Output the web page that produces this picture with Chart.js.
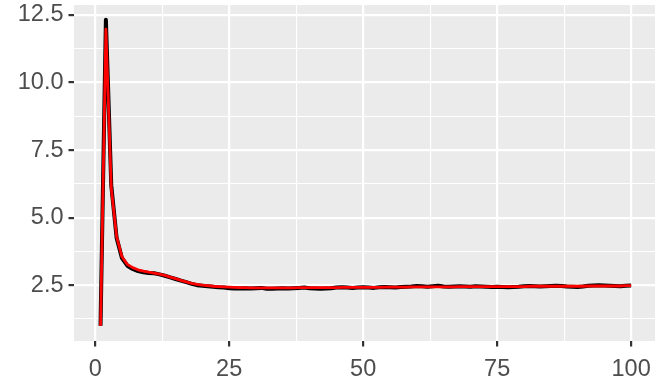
<!DOCTYPE html>
<html>
<head>
<meta charset="utf-8">
<script src="https://cdn.jsdelivr.net/npm/chart.js@4"></script>
<style>
  body { margin: 0; background: #ffffff; }
  #wrap { width: 655px; height: 379px; }
</style>
</head>
<body>
<div id="wrap"><canvas id="grafik" width="655" height="379"></canvas></div>
<script>
// nilai sumbu x: iterasi 1..100
const iterasi = [];
for (let i = 1; i <= 100; i++) iterasi.push(i);

// garis hitam (data mentah)
const nilaiHitam = [
  1.00, 12.32, 6.20, 4.25, 3.50, 3.22, 3.10, 3.02, 2.98, 2.95,
  2.94, 2.90, 2.85, 2.79, 2.73, 2.67, 2.61, 2.55, 2.50, 2.48,
  2.46, 2.44, 2.42, 2.41, 2.39, 2.38, 2.38, 2.39, 2.38, 2.39,
  2.40, 2.37, 2.37, 2.38, 2.39, 2.38, 2.39, 2.40, 2.41, 2.39,
  2.38, 2.37, 2.38, 2.39, 2.41, 2.42, 2.41, 2.40, 2.41, 2.42,
  2.41, 2.40, 2.42, 2.43, 2.42, 2.41, 2.43, 2.44, 2.45, 2.47,
  2.46, 2.44, 2.46, 2.48, 2.45, 2.44, 2.45, 2.46, 2.45, 2.44,
  2.46, 2.45, 2.44, 2.43, 2.44, 2.43, 2.42, 2.43, 2.44, 2.46,
  2.47, 2.46, 2.45, 2.46, 2.47, 2.48, 2.47, 2.45, 2.44, 2.43,
  2.45, 2.48, 2.49, 2.50, 2.49, 2.48, 2.47, 2.46, 2.48, 2.49
];

// garis merah (rata-rata)
const nilaiMerah = [
  1.00, 11.97, 6.10, 4.30, 3.55, 3.27, 3.15, 3.07, 3.02, 2.98,
  2.95, 2.91, 2.86, 2.80, 2.74, 2.68, 2.62, 2.57, 2.53, 2.50,
  2.48, 2.46, 2.45, 2.44, 2.43, 2.42, 2.41, 2.41, 2.40, 2.40,
  2.40, 2.40, 2.40, 2.40, 2.40, 2.40, 2.40, 2.41, 2.41, 2.41,
  2.41, 2.41, 2.41, 2.41, 2.41, 2.42, 2.42, 2.42, 2.42, 2.42,
  2.42, 2.42, 2.42, 2.43, 2.43, 2.43, 2.43, 2.43, 2.44, 2.44,
  2.44, 2.44, 2.44, 2.44, 2.44, 2.44, 2.44, 2.45, 2.45, 2.45,
  2.45, 2.45, 2.45, 2.45, 2.45, 2.45, 2.45, 2.45, 2.45, 2.45,
  2.46, 2.46, 2.46, 2.46, 2.46, 2.46, 2.46, 2.46, 2.46, 2.46,
  2.46, 2.47, 2.47, 2.47, 2.47, 2.47, 2.47, 2.47, 2.48, 2.48
];

const tickX = [0, 12.5, 25, 37.5, 50, 62.5, 75, 87.5, 100];
const tickY = [1.25, 2.5, 3.75, 5.0, 6.25, 7.5, 8.75, 10.0, 11.25, 12.5];

const latarPanel = {
  id: 'latarPanel',
  beforeDraw(chart) {
    const { ctx, chartArea: a } = chart;
    ctx.save();
    ctx.fillStyle = '#EBEBEB';
    ctx.fillRect(a.left, a.top, a.right - a.left, a.bottom - a.top);
    ctx.restore();
  }
};

function titikDari(nilai) {
  return iterasi.map((x, i) => ({ x: x, y: nilai[i] }));
}

const isMayorX = v => v % 25 === 0;
const isMayorY = v => Math.abs(v / 2.5 - Math.round(v / 2.5)) < 1e-6;

function gridOpsi(isMayor) {
  return {
    color: '#FFFFFF',
    lineWidth: c => isMayor(c.tick.value) ? 2.2 : 1.1,
    tickColor: c => isMayor(c.tick.value) ? '#333333' : 'rgba(0,0,0,0)',
    tickWidth: 2.2,
    tickLength: 5.5,
    drawOnChartArea: true
  };
}

const hurufSumbu = { family: "'Liberation Sans', Arial, sans-serif", size: 23.5 };

new Chart(document.getElementById('grafik').getContext('2d'), {
  type: 'line',
  data: {
    datasets: [
      { label: 'hitam', data: titikDari(nilaiHitam), borderColor: '#000000', borderWidth: 4,
        pointRadius: 0, tension: 0, borderJoinStyle: 'round', order: 2 },
      { label: 'merah', data: titikDari(nilaiMerah), borderColor: '#FF0000', borderWidth: 2.8,
        pointRadius: 0, tension: 0, borderJoinStyle: 'round', order: 1 }
    ]
  },
  options: {
    responsive: false,
    animation: false,
    layout: { padding: { left: 0, top: 5, right: 0, bottom: 0 } },
    plugins: { legend: { display: false }, tooltip: { enabled: false } },
    scales: {
      x: {
        type: 'linear',
        min: -3.95,
        max: 104.45,
        afterBuildTicks: s => { s.ticks = tickX.map(v => ({ value: v })); },
        afterFit: s => { s.height = 38; s.paddingLeft = 0; s.paddingRight = 0; },
        grid: gridOpsi(isMayorX),
        border: { display: false },
        ticks: {
          autoSkip: false,
          maxRotation: 0,
          padding: 9,
          color: '#4D4D4D',
          font: hurufSumbu,
          callback: v => isMayorX(v) ? String(v) : ''
        }
      },
      y: {
        type: 'linear',
        min: 0.435,
        max: 12.865,
        afterBuildTicks: s => { s.ticks = tickY.map(v => ({ value: v })); },
        afterFit: s => { s.width = 74; s.paddingTop = 0; s.paddingBottom = 0; },
        grid: gridOpsi(isMayorY),
        border: { display: false },
        ticks: {
          autoSkip: false,
          padding: 5,
          color: '#4D4D4D',
          font: hurufSumbu,
          callback: v => isMayorY(v) ? v.toFixed(1) : ''
        }
      }
    }
  },
  plugins: [latarPanel]
});
</script>
</body>
</html>
